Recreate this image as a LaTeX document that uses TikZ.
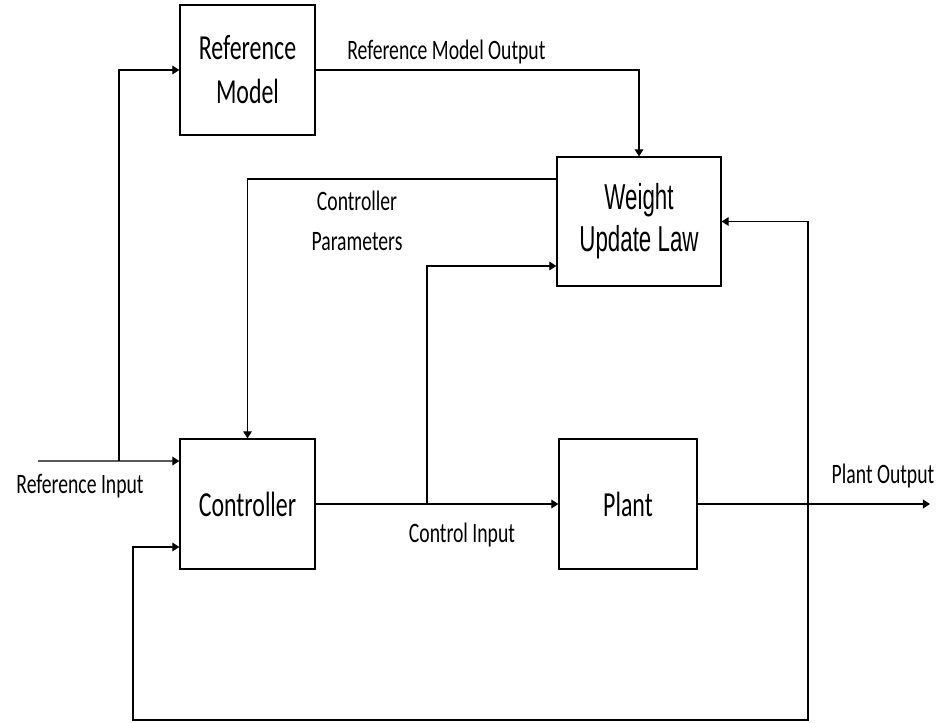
\documentclass[tikz,border=0pt]{standalone}
\usepackage{fontspec}
\setmainfont{Carlito}[FakeStretch=0.7]
\newfontfamily\blockfont{Carlito}[FakeStretch=0.68]
\newfontfamily\lawfont{Liberation Sans}[FakeStretch=0.62]
\usetikzlibrary{arrows.meta,positioning,calc}

\begin{document}
\begin{tikzpicture}[
  x=0.02cm, y=-0.02cm,
  every node/.style={inner sep=0pt},
  block/.style={draw, line width=0.8pt, minimum width=2.7cm,
    minimum height=2.6cm, align=center,
    font=\blockfont\fontsize{20}{25}\selectfont},
  lbl/.style={align=center, font=\fontsize{16}{22.6}\selectfont},
  arr/.style={-{Triangle[length=4pt,width=5pt]}, line width=0.6pt}]
\useasboundingbox (0,0) rectangle (943,723);
% blocks
\node[block] (refmodel) at (247.5,70) {Reference\\Model};
\node[block, minimum width=3.28cm, minimum height=2.58cm,
      font=\lawfont\fontsize{20.5}{24}\selectfont] (weight) at (639,221.5)
  {Weight\\Update Law};
\node[block] (controller) at (247.5,504) {Controller};
\node[block, minimum width=2.76cm] (plant) at (628,504) {Plant};
% labels
\node[lbl, anchor=base] (lrefin) at (80,493) {Reference Input};
\node[lbl, anchor=base west] (lrefout) at (347,60) {Reference Model Output};
\node[lbl] (lparams) at (357,221) {Controller\\Parameters};
\node[lbl, anchor=base] (lcontrol) at (462,542) {Control Input};
\node[lbl, anchor=base] (lplant) at (883,483) {Plant Output};
% branch points
\coordinate (refin) at (38,461);
\coordinate (split1) at (119,461);
\coordinate (split2) at (427,504);
\coordinate (split3) at (808,504);
\coordinate (out) at (930,504);
\coordinate (fbl) at (133,720);
% connectors
\draw[arr] (refin) -- ([yshift=0.86cm]controller.west);
\draw[arr] (split1) |- (refmodel.west);
\draw[arr] (refmodel.east) -| (weight.north);
\draw[arr] ([yshift=0.85cm]weight.west) -| (controller.north);
\draw[arr] (controller) -- (plant);
\draw[arr] (split2) |- ([yshift=-0.89cm]weight.west);
\draw[arr] (plant) -- (out);
\draw[arr] (split3) |- (weight.east);
\draw[arr] (split3) |- (fbl) |- ([yshift=-0.86cm]controller.west);
\end{tikzpicture}
\end{document}
